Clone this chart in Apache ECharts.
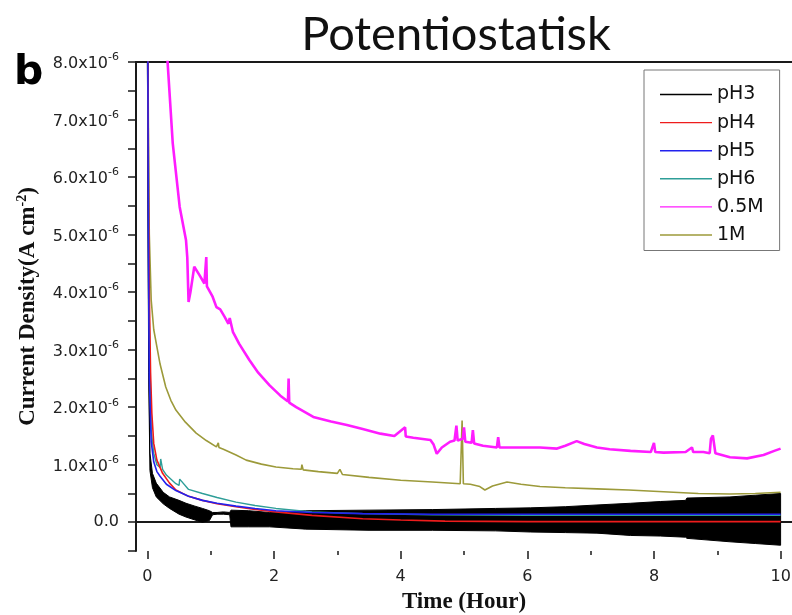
<!DOCTYPE html>
<html><head><meta charset="utf-8">
<script src="https://cdn.jsdelivr.net/npm/echarts@6/dist/echarts.min.js"></script>
<style>html,body{margin:0;padding:0;background:#fff}#c{width:792px;height:615px}</style>
</head><body><div id="c"></div>
<script>
// Current density in units of 1e-6 A cm^-2; time in hours
const yTicks = [0, 1, 2, 3, 4, 5, 6, 7, 8];
const xTicks = [0, 2, 4, 6, 8, 10];

// pH3: noisy band, lower and upper envelope
const tPH3    = [0, 0.02, 0.04, 0.08, 0.14, 0.25, 0.35, 0.5, 0.61, 0.75, 0.87, 0.98, 1.03, 1.1, 1.2, 1.3, 1.32, 1.6, 1.93, 2.5, 3.5, 4.5, 5.5, 6.05, 6.6, 7.1, 7.63, 8.1, 8.5, 8.52, 9.2, 9.6, 10.0];
const pH3High = [10, 3.0, 1.2, 0.85, 0.68, 0.52, 0.44, 0.38, 0.33, 0.28, 0.24, 0.2, 0.17, 0.17, 0.18, 0.17, 0.21, 0.2, 0.17, 0.2, 0.21, 0.22, 0.24, 0.25, 0.27, 0.30, 0.33, 0.36, 0.38, 0.42, 0.44, 0.47, 0.50];
const pH3Low  = [10, 2.6, 0.9, 0.6, 0.44, 0.32, 0.24, 0.14, 0.09, 0.04, 0.0, 0.03, 0.13, 0.14, 0.14, 0.13, -0.08, -0.08, -0.08, -0.12, -0.14, -0.14, -0.15, -0.17, -0.18, -0.19, -0.23, -0.24, -0.26, -0.28, -0.34, -0.37, -0.40];

const tPH4 = [0, 0.016, 0.03, 0.05, 0.07, 0.1, 0.15, 0.24, 0.35, 0.45, 0.65, 0.87, 1.1, 1.4, 1.7, 2.03, 2.6, 3.4, 4.0, 4.7, 6, 8, 10];
const vPH4 = [11, 6.0, 4.0, 2.6, 1.9, 1.37, 1.08, 0.85, 0.68, 0.56, 0.45, 0.38, 0.32, 0.27, 0.22, 0.18, 0.12, 0.06, 0.04, 0.02, 0.01, 0.01, 0.01];

const tPH5 = [0, 0.015, 0.03, 0.06, 0.1, 0.15, 0.2, 0.3, 0.45, 0.65, 0.87, 1.1, 1.4, 1.7, 2.03, 2.6, 3.4, 4.5, 6, 8, 10];
const vPH5 = [11, 5.0, 2.5, 1.4, 1.05, 0.88, 0.8, 0.66, 0.55, 0.45, 0.38, 0.33, 0.28, 0.24, 0.2, 0.17, 0.15, 0.14, 0.14, 0.14, 0.14];

const tPH6 = [0, 0.015, 0.03, 0.06, 0.1, 0.15, 0.2, 0.21, 0.24, 0.3, 0.45, 0.5, 0.51, 0.65, 0.87, 1.1, 1.4, 1.7, 2.03, 2.6, 3.4, 4.5, 6, 8, 10];
const vPH6 = [11, 6.5, 3.5, 1.6, 1.2, 1.0, 0.95, 1.1, 0.92, 0.82, 0.67, 0.64, 0.75, 0.57, 0.50, 0.43, 0.35, 0.29, 0.24, 0.18, 0.15, 0.13, 0.12, 0.12, 0.12];

const t05M = [0.25, 0.32, 0.40, 0.51, 0.61, 0.63, 0.65, 0.68, 0.74, 0.82, 0.90, 0.93, 0.94, 1.03, 1.09, 1.15, 1.22, 1.28, 1.30, 1.35, 1.45, 1.61, 1.75, 1.93, 2.1, 2.22, 2.23, 2.24, 2.35, 2.62, 2.9, 3.15, 3.4, 3.68, 3.9, 4.07, 4.08, 4.2, 4.47, 4.52, 4.57, 4.65, 4.78, 4.85, 4.88, 4.90, 4.98, 5.0, 5.02, 5.12, 5.14, 5.16, 5.3, 5.52, 5.54, 5.56, 5.8, 6.2, 6.47, 6.6, 6.78, 6.9, 7.1, 7.3, 7.63, 7.95, 8.0, 8.02, 8.15, 8.5, 8.6, 8.62, 8.78, 8.88, 8.9, 8.93, 8.97, 9.0, 9.2, 9.47, 9.73, 9.9, 10.0];
const v05M = [9.0, 7.98, 6.59, 5.48, 4.9, 4.6, 3.83, 4.0, 4.44, 4.3, 4.15, 4.61, 4.1, 3.92, 3.74, 3.7, 3.57, 3.45, 3.55, 3.31, 3.1, 2.82, 2.6, 2.38, 2.2, 2.1, 2.5, 2.08, 2.0, 1.83, 1.75, 1.69, 1.62, 1.54, 1.5, 1.65, 1.49, 1.47, 1.43, 1.35, 1.19, 1.3, 1.40, 1.42, 1.68, 1.42, 1.45, 1.65, 1.4, 1.38, 1.6, 1.37, 1.33, 1.30, 1.48, 1.3, 1.3, 1.30, 1.28, 1.33, 1.41, 1.36, 1.30, 1.27, 1.24, 1.22, 1.38, 1.22, 1.21, 1.22, 1.3, 1.22, 1.22, 1.2, 1.45, 1.51, 1.2, 1.17, 1.13, 1.11, 1.17, 1.24, 1.28];

const t1M = [0, 0.015, 0.03, 0.06, 0.1, 0.14, 0.2, 0.29, 0.37, 0.45, 0.6, 0.77, 0.93, 1.09, 1.12, 1.13, 1.2, 1.4, 1.56, 1.8, 2.03, 2.3, 2.43, 2.44, 2.46, 2.7, 3.0, 3.04, 3.08, 3.5, 4.0, 4.5, 4.94, 4.97, 4.99, 5.1, 5.25, 5.33, 5.45, 5.68, 5.9, 6.2, 6.6, 7.1, 7.6, 8.15, 8.7, 9.2, 9.6, 10.0];
const v1M = [10, 7.0, 5.0, 3.86, 3.35, 3.11, 2.75, 2.35, 2.12, 1.95, 1.74, 1.55, 1.42, 1.31, 1.38, 1.3, 1.27, 1.17, 1.08, 1.01, 0.96, 0.93, 0.92, 1.0, 0.91, 0.88, 0.85, 0.92, 0.83, 0.78, 0.73, 0.7, 0.67, 1.77, 0.67, 0.66, 0.62, 0.56, 0.63, 0.70, 0.66, 0.62, 0.6, 0.58, 0.56, 0.53, 0.5, 0.49, 0.5, 0.52];

const zip = (t, v) => t.map((x, i) => [x, v[i]]);

const axisColor = '#1a1a1a';
const sans = 'DejaVu Sans';
const serif = 'Liberation Serif';
const legendIcon = 'path://M0,0 M0,6.3 L52,6.3 L52,7.7 L0,7.7 Z M52,14';

const chart = echarts.init(document.getElementById('c'), null, {renderer: 'canvas'});
const lineS = (name, data, color, width) => ({
  name, type: 'line', data, symbol: 'none', showSymbol: false, animation: false,
  xAxisIndex: 0, yAxisIndex: 0,
  lineStyle: {color, width}, itemStyle: {color}
});

const bandSeries = {
  name: 'pH3', type: 'custom', xAxisIndex: 0, yAxisIndex: 0, animation: false, clip: true,
  itemStyle: {color: '#000'},
  data: tPH3.map((t, i) => [t, pH3High[i], pH3Low[i]]),
  encode: {x: 0, y: [1, 2]},
  renderItem: (params, api) => {
    if (params.dataIndex !== 0) return null;
    const pts = [];
    for (let i = 0; i < tPH3.length; i++) pts.push(api.coord([tPH3[i], pH3High[i]]));
    for (let i = tPH3.length - 1; i >= 0; i--) pts.push(api.coord([tPH3[i], pH3Low[i]]));
    const cs = params.coordSys;
    const clipped = echarts.graphic.clipPointsByRect(pts, {x: cs.x, y: cs.y, width: cs.width, height: cs.height});
    return {type: 'polygon', shape: {points: clipped}, style: {fill: '#000', stroke: '#000', lineWidth: 1}};
  }
};

chart.setOption({
  animation: false,
  title: {
    text: 'Potentiostatisk', left: 456, top: 11, textAlign: 'center', padding: 0,
    textStyle: {fontFamily: 'Lato', fontSize: 47, fontWeight: 'normal', color: '#111'}
  },
  graphic: [{
    type: 'text', left: 14, top: 53,
    style: {text: 'b', font: 'bold 41px "DejaVu Sans"', fill: '#000'}
  }],
  legend: {
    data: ['pH3', 'pH4', 'pH5', 'pH6', '0.5M', '1M'].map(n => ({name: n, icon: legendIcon})),
    orient: 'vertical', left: 644, top: 70,
    padding: [15, 16, 6, 16], itemGap: 9.1, itemWidth: 52, itemHeight: 14,
    borderColor: '#777', borderWidth: 1, borderRadius: 0,
    textStyle: {fontFamily: sans, fontSize: 19, color: '#111'}
  },
  grid: [
    {left: 136, right: 0, top: 62, bottom: 64, outerBoundsMode: 'none', containLabel: false},
    {left: 147.3, right: 11.3, top: 62, bottom: 64, outerBoundsMode: 'none', containLabel: false}
  ],
  xAxis: [
    {type: 'value', gridIndex: 0, min: -0.18, max: 10.18,
     axisLine: {show: true, lineStyle: {color: axisColor, width: 2}},
     axisTick: {show: false}, axisLabel: {show: false}, splitLine: {show: false},
     name: 'Time (Hour)', nameLocation: 'middle', nameGap: 40,
     nameTextStyle: {fontFamily: serif, fontWeight: 'bold', fontSize: 23, color: '#111'}},
    {type: 'value', gridIndex: 0, position: 'top', min: -0.18, max: 10.18,
     axisLine: {show: true, onZero: false, lineStyle: {color: axisColor, width: 2}},
     axisTick: {show: false}, axisLabel: {show: false}, splitLine: {show: false}},
    {type: 'value', gridIndex: 1, min: 0, max: 10, interval: 2,
     axisLine: {show: false}, splitLine: {show: false},
     axisTick: {show: true, inside: false, length: 8, lineStyle: {color: axisColor, width: 1.5}},
     minorTick: {show: true, splitNumber: 2, length: 4, lineStyle: {color: axisColor, width: 1.5}},
     axisLabel: {margin: 18, fontFamily: sans, fontSize: 16, color: '#222',
       formatter: v => xTicks.includes(Math.round(v)) ? String(Math.round(v)) : ''}}
  ],
  yAxis: [
    {type: 'value', gridIndex: 0, min: -0.5, max: 8, interval: 0.5,
     axisLine: {show: true, onZero: false, lineStyle: {color: axisColor, width: 2}},
     axisTick: {show: true, inside: false, length: 8, lineStyle: {color: axisColor, width: 1.5}},
     splitLine: {show: false},
     axisLabel: {margin: 17, color: '#222',
       formatter: v => {
         const r = Math.round(v);
         if (Math.abs(v - r) > 1e-6 || !yTicks.includes(r)) return '';
         if (r === 0) return '{m|0.0}';
         return '{m|' + r.toFixed(1) + 'x10}{s|-6}';
       },
       rich: {
         m: {fontFamily: sans, fontSize: 16, color: '#222', verticalAlign: 'bottom'},
         s: {fontFamily: sans, fontSize: 11, color: '#222', verticalAlign: 'bottom', padding: [0, 0, 9, 0]}
       }},
     name: '{n|Current Density(A cm}{s|-2}{n|)}', nameLocation: 'middle', nameGap: 96,
     nameTextStyle: {
       rich: {
         n: {fontFamily: serif, fontWeight: 'bold', fontSize: 23, color: '#111', verticalAlign: 'bottom'},
         s: {fontFamily: serif, fontWeight: 'bold', fontSize: 14, color: '#111', verticalAlign: 'bottom', padding: [0, 0, 11, 0]}
       }
     }},
    {type: 'value', gridIndex: 1, min: 0, max: 1, show: false}
  ],
  series: [
    bandSeries,
    lineS('1M', zip(t1M, v1M), '#9c9a3a', 1.6),
    lineS('0.5M', zip(t05M, v05M), '#ff1cff', 2.6),
    lineS('pH6', zip(tPH6, vPH6), '#2e9e98', 1.4),
    lineS('pH4', zip(tPH4, vPH4), '#ee1c1c', 1.6),
    lineS('pH5', zip(tPH5, vPH5), '#2222ee', 1.6)
  ]
});
</script>
</body></html>
